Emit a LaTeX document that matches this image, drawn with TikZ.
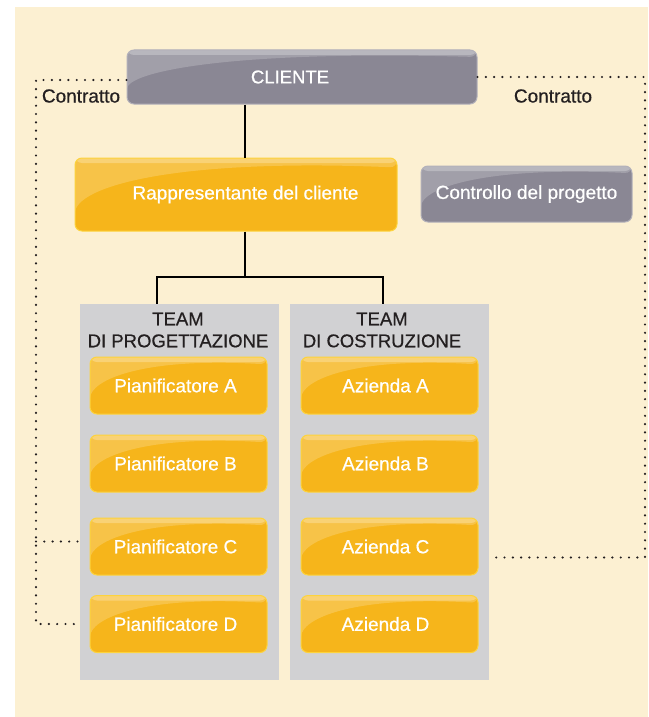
\documentclass[tikz,border=0pt]{standalone}
\usepackage{fontspec}
\setmainfont{Liberation Sans}[FakeBold=0.6]
\usetikzlibrary{calc}

\definecolor{clcream}{HTML}{FCF0D2}
\definecolor{clorange}{HTML}{F6B51B}
\definecolor{clorangeline}{HTML}{FDD33C}
\definecolor{clgray}{HTML}{8A8794}
\definecolor{clgrayline}{HTML}{B3B1BA}
\definecolor{clpanel}{HTML}{D1D1D3}
\definecolor{clink}{HTML}{231F20}

\newcommand\ppb{path picture bounding box}

\tikzset{
  txt/.style={font=\fontsize{18.5}{22}\selectfont, inner sep=0pt},
  bigtxt/.style={font=\fontsize{19}{22}\selectfont, inner sep=0pt},
  gloss/.style={path picture={
    \fill[white, fill opacity=0.2]
      (\ppb.north west) -- (\ppb.north east)
      -- ($(\ppb.north east)!0.13!(\ppb.south east)$)
      .. controls ($(\ppb.north west)!0.3!(\ppb.north east)$) and ($(\ppb.north west)!0.4!(\ppb.south west)$)
      .. ($(\ppb.north west)!0.85!(\ppb.south west)$) -- cycle;
    \fill[white, fill opacity=0.25]
      (\ppb.north west) rectangle ($(\ppb.north east)+(0,-5pt)$);}},
  obox/.style={bigtxt, draw=clorangeline, line width=1pt, fill=clorange,
    rounded corners=7pt, text=white, gloss},
  gbox/.style={txt, draw=clgrayline, line width=1pt, fill=clgray,
    rounded corners=7pt, text=white, gloss},
  panelbox/.style={fill=clpanel, inner sep=0pt, minimum width=199pt, minimum height=376pt},
  link/.style={line width=1.2pt, black},
  contract/.style={line width=2.4pt, clink, line cap=round, dash pattern=on 0pt off 8.3pt}
}

\begin{document}
\begin{tikzpicture}[x=1pt, y=-1pt]
\useasboundingbox (0,0) rectangle (648,717);
\fill[clcream] (15,7) rectangle (648,717);

\coordinate (trunk) at (245,277);
\coordinate (forkP) at (157,277);
\coordinate (forkC) at (383,277);
\coordinate (westrail) at (36,0);
\coordinate (eastrail) at (645,0);

\node[gbox, minimum width=350pt, minimum height=54pt] (cliente) at (302,77) {\hspace*{-24pt}CLIENTE};
\node[obox, minimum width=322pt, minimum height=73pt] (rapp) at (236,194.5) {\hspace*{19pt}Rappresentante del cliente};
\node[gbox, bigtxt, minimum width=211pt, minimum height=56pt] (controllo) at (526.5,194) {Controllo del progetto};

\node[panelbox] (teamP) at (179.5,492) {};
\node[panelbox] (teamC) at (389.5,492) {};
\node[txt, text=clink, align=center] (titleP) at (178,330) {TEAM\\DI PROGETTAZIONE};
\node[txt, text=clink, align=center] (titleC) at (382,330) {TEAM\\DI COSTRUZIONE};

\foreach \k/\y in {A/385.5, B/463.5, C/546.5, D/624} {
  \node[obox, minimum width=177pt, minimum height=57pt] (p\k) at (178.5,\y) {\hspace*{-6pt}Pianificatore \k};
  \node[obox, minimum width=177pt, minimum height=57pt] (a\k) at (389.5,\y) {\hspace*{-8pt}Azienda \k};
}

\draw[link] (cliente.south -| trunk) -- (rapp.north -| trunk);
\draw[link] (rapp.south -| trunk) -- (trunk);
\draw[link] (teamP.north -| forkP) -- (forkP) -- (forkC) -- (teamC.north -| forkC);

\draw[contract] ([yshift=-3pt]cliente.west) -| (westrail |- pD) -- (teamP.west |- pD);
\draw[contract] ([yshift=5pt]pC.west -| westrail) -- ([yshift=5pt]pC.west -| teamP.west);
\draw[contract] (cliente.east) -| ([yshift=-11pt]aC.east -| eastrail) -- ([yshift=-11pt]aC.east -| teamC.east);

\node[bigtxt, text=clink] (contrattoL) at (81,96) {Contratto};
\node[bigtxt, text=clink] (contrattoR) at (553,96) {Contratto};
\end{tikzpicture}
\end{document}
